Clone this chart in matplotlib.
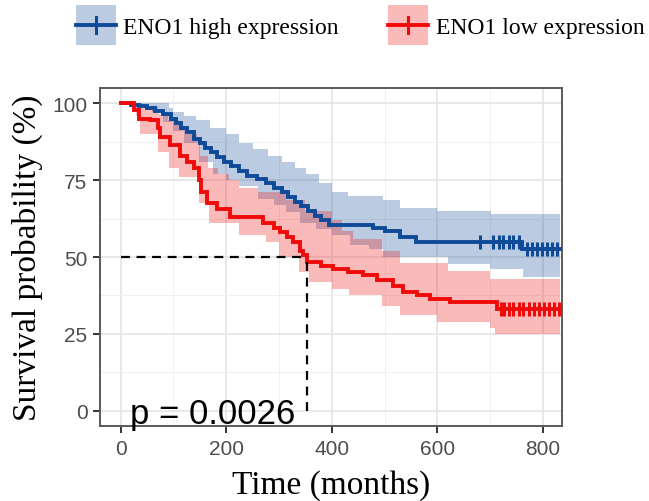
import numpy as np
import matplotlib
matplotlib.use('Agg')
import matplotlib.pyplot as plt
from matplotlib.patches import Rectangle
from matplotlib.lines import Line2D
from matplotlib.legend_handler import HandlerBase

# ---------------- data ----------------
group_labels = ['ENO1 high expression', 'ENO1 low expression']
end_time = 832

high_time = [0, 20, 35, 50, 65, 80, 95, 105, 115, 125, 140, 150, 160, 172, 182, 195, 210, 225,
             240, 258, 275, 290, 305, 318, 330, 342, 355, 368, 380, 395, 478, 500, 530, 560, 760]
high_surv = [100, 99.5, 99, 98.5, 97.5, 96.5, 95, 93.5, 92, 90.5, 88.5, 87, 85.5, 84, 82.5, 81, 79.5, 78,
             76.5, 75.5, 74, 72.5, 71, 69.5, 68, 66.5, 65, 63.5, 62, 60.5, 59.5, 58.5, 56.5, 55, 52.5]
high_upper_time = [0, 92, 100, 120, 143, 170, 200, 225, 250, 280, 306, 330, 351, 375, 400, 430, 497, 530, 600, 702]
high_upper = [100, 98.5, 97, 96, 94.5, 92, 90, 87, 85, 83, 81, 79, 77, 74, 71, 70, 68.7, 66, 65, 64]
high_lower_time = [0, 30, 60, 80, 100, 120, 149, 175, 200, 225, 260, 290, 313, 340, 370, 400, 435, 470, 497,
                   620, 700, 763]
high_lower = [100, 99, 97, 94, 91, 87, 81, 77, 75, 73, 69, 67, 64.5, 61, 59, 57, 54, 52.5, 50,
              47.7, 46, 43.5]
high_censor = [681, 706, 716, 725, 735, 744, 754, 770, 779, 789, 798, 808, 817, 826]

low_time = [0, 25, 35, 55, 70, 75, 93, 112, 125, 140, 148, 152, 163, 182, 207, 270, 290, 302, 315, 327,
            340, 346, 353, 380, 402, 430, 459, 486, 516, 535, 561, 586, 624, 713]
low_surv = [100, 97.7, 95, 94.5, 92, 89, 86.5, 83, 81, 79, 75, 71, 67.7, 65.5, 63, 61, 59.5, 58, 56.5, 55,
            52, 50.5, 48.5, 47, 46, 45, 44, 42.5, 40.6, 38.7, 37.5, 36.5, 35.5, 33.2]
low_upper_time = [0, 40, 70, 90, 110, 125, 145, 150, 165, 185, 205, 225, 260, 313, 350, 400, 420, 440, 495,
                  530, 620, 700]
low_upper = [100, 99, 96.5, 94.5, 92, 90, 88, 83, 79, 77, 75, 72.6, 71, 68.7, 65, 62, 58.5, 56, 52,
             48, 45.5, 43]
low_lower_time = [0, 30, 36, 70, 92, 111, 149, 168, 225, 275, 300, 337, 357, 400, 432, 495, 530, 600, 700, 710]
low_lower = [100, 96, 90, 84, 79, 76, 67.7, 61, 57, 55, 50, 45, 42, 39.5, 37.5, 34, 31, 29, 27, 25]
low_censor = [720, 727, 735, 744, 754, 763, 773, 782, 792, 801, 811, 820, 830]

p_text = 'p = 0.0026'

x_ticks = [0, 200, 400, 600, 800]
y_ticks = [0, 25, 50, 75, 100]

# ---------------- style ----------------
blue = '#0E4A97'
red = '#F00A0A'
band_alpha = 0.28
serif = ['Liberation Serif', 'DejaVu Serif']
sans = ['Liberation Sans', 'DejaVu Sans']


def step_eval(t, v, x):
    t = np.asarray(t, float)
    v = np.asarray(v, float)
    idx = np.searchsorted(t, x, side='right') - 1
    return v[np.clip(idx, 0, len(v) - 1)]


class KeyHandler(HandlerBase):
    """ggplot-like key: shaded square with a line and a censor tick."""
    def create_artists(self, legend, orig_handle, xdescent, ydescent, width, height,
                       fontsize, trans):
        col = orig_handle.get_color()
        size = 28.8
        yc = 0.33 * fontsize
        x0 = -xdescent
        rect = Rectangle((x0, yc - size / 2), size, size, facecolor=col, alpha=band_alpha,
                         edgecolor='none', transform=trans)
        hline = Line2D([x0, x0 + size], [yc, yc], color=col, lw=2.8, transform=trans)
        vline = Line2D([x0 + size / 2] * 2, [yc - 5.8, yc + 5.8], color=col, lw=2.2,
                       transform=trans)
        return [rect, hline, vline]


fig = plt.figure(figsize=(6.49, 5.02), dpi=100)
ax = fig.add_axes([0.154, 0.149, 0.712, 0.674])

groups = [
    (high_time, high_surv, high_upper_time, high_upper, high_lower_time, high_lower, high_censor, blue),
    (low_time, low_surv, low_upper_time, low_upper, low_lower_time, low_lower, low_censor, red),
]

for t, s, ut, u, lt, l, cens, col in groups:
    grid = np.unique(np.concatenate([ut, lt, [end_time]]))
    ax.fill_between(grid, step_eval(lt, l, grid), step_eval(ut, u, grid), step='post',
                    color=col, alpha=band_alpha, lw=0, zorder=2)

for t, s, ut, u, lt, l, cens, col in groups:
    ax.step(list(t) + [end_time], list(s) + [s[-1]], where='post', color=col, lw=2.8,
            zorder=4, solid_joinstyle='miter')
    ax.plot(cens, step_eval(t, s, np.asarray(cens, float)), ls='none', marker='|',
            markersize=10, mew=2.2, color=col, zorder=5)

# median survival line (low expression group)
low_arr = np.asarray(low_surv)
median_t = np.asarray(low_time)[np.argmax(low_arr <= 50)]
ax.plot([0, median_t], [50, 50], ls=(0, (4, 3)), color='black', lw=1.6, zorder=6)
ax.plot([median_t, median_t], [0, 50], ls=(0, (4, 3)), color='black', lw=1.6, zorder=6)

ax.text(18, -4, p_text, fontsize=25, family=sans, ha='left', va='baseline', zorder=7)

ax.set_xlim(-39, 836)
ax.set_ylim(-5, 105)
ax.set_xticks(x_ticks)
ax.set_yticks(y_ticks)
ax.set_xticks([100, 300, 500, 700], minor=True)
ax.set_yticks([12.5, 37.5, 62.5, 87.5], minor=True)
ax.grid(True, which='major', color='#e6e6e6', lw=1.3, zorder=0)
ax.grid(True, which='minor', color='#f0f0f0', lw=0.7, zorder=0)
ax.set_axisbelow(True)
ax.tick_params(which='minor', length=0)
ax.tick_params(which='major', length=5, width=1.4, color='#333333', labelcolor='#4d4d4d',
               labelsize=15, pad=4)
for lab in ax.get_xticklabels() + ax.get_yticklabels():
    lab.set_family(sans)
for sp in ax.spines.values():
    sp.set_color('#5a5a5a')
    sp.set_linewidth(1.4)

ax.set_xlabel('Time (months)', fontsize=24, family=serif, labelpad=8)
ax.set_ylabel('Survival probability (%)', fontsize=24, family=serif, labelpad=7)

handles = [Line2D([], [], color=blue), Line2D([], [], color=red)]
fig.legend(handles, group_labels, handler_map={Line2D: KeyHandler()},
           loc='upper center', bbox_to_anchor=(0.555, 1.012), ncol=2, frameon=False,
           prop={'family': serif, 'size': 17}, handlelength=1.7, handleheight=1.0,
           handletextpad=0.3, columnspacing=2.1)

fig.savefig('out.png', dpi=100)
